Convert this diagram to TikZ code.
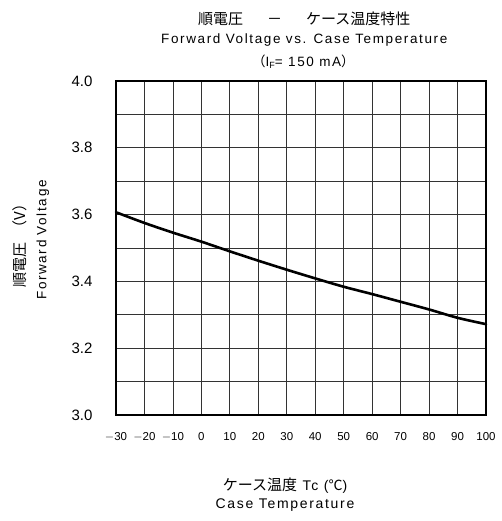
\documentclass[tikz,border=0pt]{standalone}
\usepackage{fontspec}
\setmainfont{Liberation Sans}
\newfontfamily\jp{Noto Sans CJK JP}
\newfontfamily\lat[LetterSpace=12]{Liberation Sans}
\begin{document}
\begin{tikzpicture}[x=1pt,y=-1pt,
  gridline/.style={draw=black!80,line width=0.8pt},
  frameline/.style={draw=black,line width=1.4pt},
  curveline/.style={draw=black,line width=2.6pt,line join=round,line cap=round},
  ylab/.style={font=\fontsize{15}{15}\selectfont,anchor=center},
  xlab/.style={font=\fontsize{11.5}{11.5}\selectfont,anchor=center},
  txt/.style={inner sep=0pt,anchor=center}]
\useasboundingbox (0,0) rectangle (501,521);
% grid
\foreach \i in {1,...,12} \draw[gridline] ({116+\i*370/13},81) -- ({116+\i*370/13},415);
\foreach \j in {1,...,9} \draw[gridline] (116,{81+\j*33.4}) -- (486,{81+\j*33.4});
\draw[frameline] (116,81) rectangle (486,415);
% y tick labels
\foreach \v/\lab in {0/3.0,2/3.2,4/3.4,6/3.6,8/3.8,10/4.0}
  \node[ylab] (y\v) at (82,{415-\v*33.4}) {\lab};
% x tick labels
\foreach \k/\lab in {0/$-$30,1/$-$20,2/$-$10,3/0,4/10,5/20,6/30,7/40,8/50,9/60,10/70,11/80,12/90,13/100}
  \node[xlab] (x\k) at ({116+\k*370/13},437) {\lab};
% curve
\draw[curveline] plot[smooth,tension=0.5] coordinates {
 (116,{415-0.607*334}) ({116+1*370/13},{415-0.575*334}) ({116+2*370/13},{415-0.546*334})
 ({116+3*370/13},{415-0.519*334}) ({116+4*370/13},{415-0.490*334}) ({116+5*370/13},{415-0.462*334})
 ({116+6*370/13},{415-0.435*334}) ({116+7*370/13},{415-0.409*334}) ({116+8*370/13},{415-0.384*334})
 ({116+9*370/13},{415-0.362*334}) ({116+10*370/13},{415-0.339*334}) ({116+11*370/13},{415-0.316*334})
 ({116+12*370/13},{415-0.291*334}) (486,{415-0.272*334})};
% titles
\node[txt,anchor=west,font=\jp\fontsize{15}{15}\selectfont] (t1) at (198,19) {順電圧\hspace{1.6em}－\hspace{1.6em}ケース温度特性};
\node[txt,anchor=west,font=\lat\fontsize{13.5}{13.5}\selectfont] (t2) at (161,40) {Forward Voltage vs. Case Temperature};
\node[txt,anchor=west,font=\lat\fontsize{13.5}{13.5}\selectfont] (t3) at (252,62) {{\jp（}I\raisebox{-0.3ex}{\fontsize{9}{9}\selectfont F}= 150 mA{\jp）}};
% axis labels
\node[txt,rotate=90,font=\fontsize{15}{15}\selectfont] (yl1) at (20,242) {{\jp 順電圧}\hspace{0.5em}{\jp（V）}};
\node[txt,rotate=90,font=\lat\fontsize{13.5}{13.5}\selectfont] (yl2) at (43,240) {Forward Voltage};
\node[txt,font=\lat\fontsize{14}{14}\selectfont] (xl1) at (285,486) {{\jp\fontsize{15}{15}\selectfont ケース温度} Tc ({\jp ℃})};
\node[txt,font=\lat\fontsize{14}{14}\selectfont] (xl2) at (285,505) {Case Temperature};
\end{tikzpicture}
\end{document}
